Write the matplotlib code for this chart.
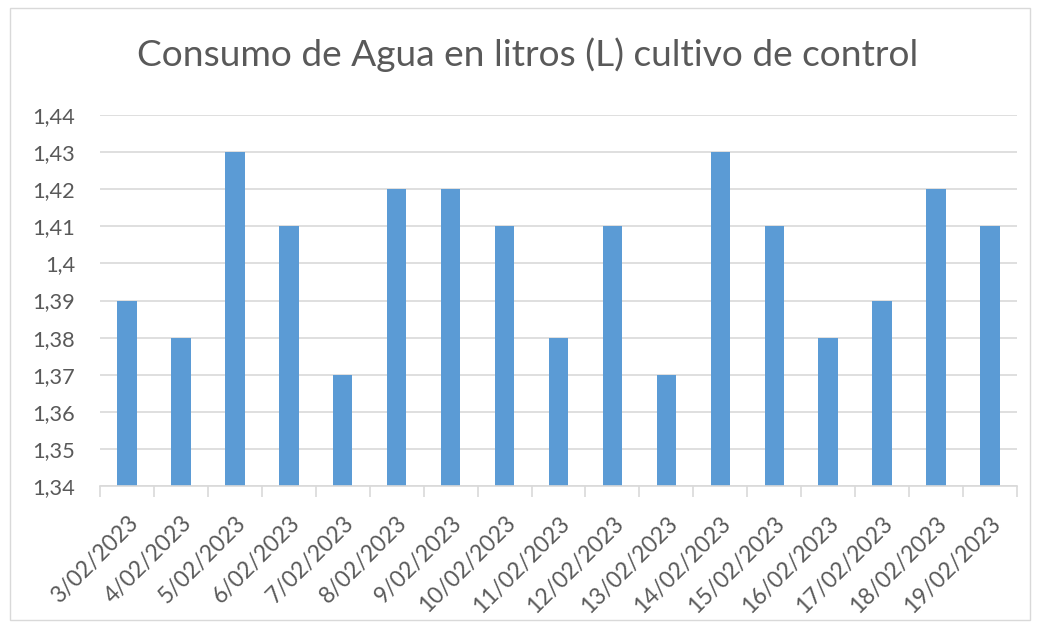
import matplotlib
matplotlib.use("Agg")
import matplotlib.pyplot as plt
import numpy as np
from matplotlib.patches import Rectangle

dates = ["3/02/2023", "4/02/2023", "5/02/2023", "6/02/2023", "7/02/2023", "8/02/2023",
         "9/02/2023", "10/02/2023", "11/02/2023", "12/02/2023", "13/02/2023", "14/02/2023",
         "15/02/2023", "16/02/2023", "17/02/2023", "18/02/2023", "19/02/2023"]
consumo = [1.39, 1.38, 1.43, 1.41, 1.37, 1.42, 1.42, 1.41, 1.38, 1.41, 1.37, 1.43,
           1.41, 1.38, 1.39, 1.42, 1.41]
yticks = [1.34, 1.35, 1.36, 1.37, 1.38, 1.39, 1.40, 1.41, 1.42, 1.43, 1.44]
ytick_labels = ["1,34", "1,35", "1,36", "1,37", "1,38", "1,39", "1,4", "1,41", "1,42", "1,43", "1,44"]

plt.rcParams['font.family'] = ['Lato', 'DejaVu Sans']
txt = "#595959"
grid = "#D9D9D9"

fig = plt.figure(figsize=(10.4, 6.28), dpi=100)
fig.patches.append(Rectangle((10/1040, 1-620/628), 1020/1040, 612/628, transform=fig.transFigure,
                             fill=False, edgecolor="#D9D9D9", linewidth=1))
ax = fig.add_axes([100/1040, 1-486/628, 917/1040, 371/628])

x = np.arange(len(dates))
ax.bar(x, [v - 1.34 for v in consumo], bottom=1.34, width=0.36, color="#5B9BD5", zorder=3)
ax.set_xlim(-0.5, len(dates) - 0.5)
ax.set_ylim(1.34, 1.44)
ax.set_yticks(yticks)
ax.set_yticklabels(ytick_labels, fontsize=15.7, color=txt)
ax.yaxis.grid(True, color=grid, linewidth=1.2, zorder=0)
ax.tick_params(axis='y', length=0, pad=18)

ax.set_xticks(x)
ax.set_xticklabels(dates, rotation=45, ha='right', rotation_mode='anchor', fontsize=16.5, color=txt)
ax.tick_params(axis='x', which='major', length=0, pad=19)
ax.set_xticks(np.arange(-0.5, len(dates)), minor=True)
ax.tick_params(axis='x', which='minor', length=8, color=grid, width=1.2)

for s in ['top', 'right', 'left']:
    ax.spines[s].set_visible(False)
ax.spines['bottom'].set_color(grid)
ax.spines['bottom'].set_linewidth(1.2)
ax.spines['bottom'].set_zorder(4)

fig.text(528/1040, 1-55/628, "Consumo de Agua en litros (L) cultivo de control",
         ha='center', va='center', fontsize=26.7, color=txt)

fig.savefig("out.png", dpi=100)
